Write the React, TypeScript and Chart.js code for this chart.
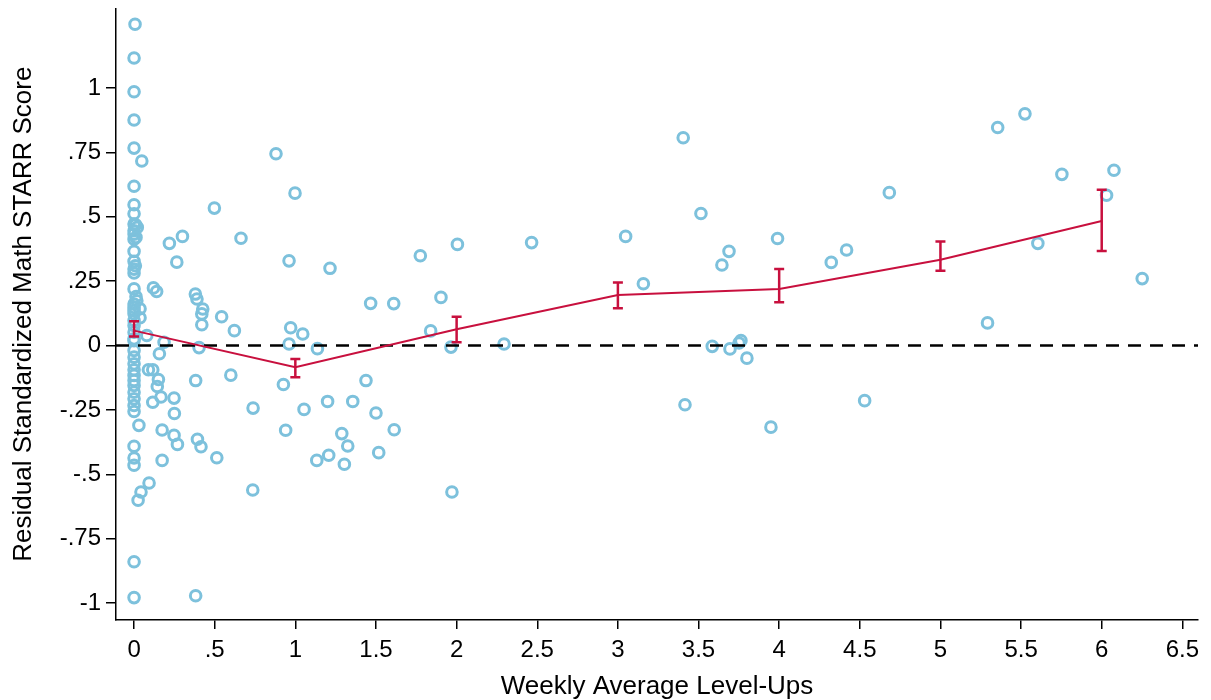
import { useEffect, useRef } from "react";
import { Chart, registerables } from "chart.js";

Chart.register(...registerables);

// ---------- data ----------
const scatterX = [
  0, 0, 0, 0, 0, 0, 0, 0, 0, 0, 0, 0, 0, 0, 0, 0, 0, 0, 0, 0, 0, 0, 0, 0, 0, 0, 0, 0, 0, 0, 0, 0, 0, 0, 0, 0, 0, 0, 0, 0, 0,
  0.006, 0.01, 0.02, 0.012, 0.017, 0.037, 0.037, 0.048, 0.079, 0.03, 0.093, 0.043, 0.025, 0.008, 0.012,
  0.186, 0.12, 0.14, 0.219, 0.3, 0.265, 0.38, 0.39, 0.426, 0.42, 0.42, 0.543, 0.622, 0.498, 0.663, 0.88, 0.998, 0.961, 1.215,
  0.971, 1.046, 0.961, 0.403, 1.137,
  0.157, 0.089, 0.116, 0.151, 0.144, 0.167, 0.116, 0.248, 0.25, 0.174, 0.248, 0.269, 0.174, 0.382, 0.6, 0.738, 0.393, 0.415,
  0.513, 0.736, 0.382, 0.926, 0.94, 1.054, 1.2, 1.133, 1.207, 1.288, 1.325, 1.304, 1.356, 1.438, 1.5, 1.517, 1.613, 1.971,
  1.775, 2.005, 2.465, 1.467, 1.61, 1.903, 1.839, 1.965, 2.294,
  3.405, 3.515, 3.048, 3.99, 3.689, 3.645, 3.158, 4.683, 4.323, 4.418, 3.585, 3.695, 3.751, 3.763, 3.8, 3.416, 3.949, 4.53,
  5.355, 5.524, 5.753, 6.076, 6.03, 5.604, 6.251, 5.292,
];
const scatterY = [
  1.117, 0.986, 0.876, 0.767, 0.619, 0.547, 0.512, 0.472, 0.446, 0.433, 0.413, 0.366, 0.327, 0.297, 0.282, 0.22, 0.161, 0.148,
  0.136, 0.124, 0.097, 0.078, 0.052, 0.026, 0.019, -0.019, -0.045, -0.071, -0.094, -0.116, -0.136, -0.155, -0.181, -0.207,
  -0.233, -0.256, -0.391, -0.437, -0.465, -0.84, -0.979,
  1.248, 0.469, 0.459, 0.42, 0.174, 0.143, 0.108, 0.717, 0.039, -0.31, -0.534, -0.569, -0.601, 0.31, 0.19,
  0.013, 0.224, 0.21, 0.397, 0.424, 0.324, 0.2, 0.181, 0.142, 0.123, 0.081, 0.112, 0.058, 0.534, 0.417, 0.745, 0.592, 0.329, 0.3,
  0.069, 0.045, 0.006, -0.008, -0.012,
  -0.032, -0.094, -0.094, -0.132, -0.159, -0.2, -0.22, -0.204, -0.264, -0.328, -0.349, -0.384, -0.446, -0.136, -0.115, -0.243,
  -0.364, -0.393, -0.436, -0.561, -0.972, -0.151, -0.329, -0.248, -0.217, -0.446, -0.426, -0.342, -0.39, -0.461, -0.217, -0.136,
  -0.262, -0.416, -0.327, -0.569,
  0.349, 0.393, 0.4, 0.164, 0.163, 0.187, 0.057, -0.006, 0.006,
  0.807, 0.513, 0.424, 0.416, 0.366, 0.313, 0.24, 0.594, 0.323, 0.371, -0.003, -0.013, 0.01, 0.019, -0.049, -0.23, -0.317, -0.214,
  0.847, 0.9, 0.665, 0.681, 0.584, 0.397, 0.26, 0.088,
];

const meanX = [0, 1, 2, 3, 4, 5, 6];
const meanY = [0.058, -0.084, 0.063, 0.196, 0.22, 0.333, 0.484];
const ciLow = [0.035, -0.123, 0.013, 0.145, 0.168, 0.291, 0.367];
const ciHigh = [0.094, -0.052, 0.112, 0.245, 0.297, 0.404, 0.605];

const xTicks = [0, 0.5, 1, 1.5, 2, 2.5, 3, 3.5, 4, 4.5, 5, 5.5, 6, 6.5];
const yTicks = [-1, -0.75, -0.5, -0.25, 0, 0.25, 0.5, 0.75, 1];

const X_MIN = -0.112;
const X_MAX = 6.597;
const Y_MIN = -1.066;
const Y_MAX = 1.31;

const xTitle = "Weekly Average Level-Ups";
const yTitle = "Residual Standardized Math STARR Score";

const BLUE = "#7DC1DC";
const RED = "#C8103E";
const FONT = "'Liberation Sans', Arial, Helvetica, sans-serif";

const fmt = (v: number) => {
  if (v === 0) return "0";
  return String(v).replace(/^(-?)0\./, "$1.");
};

const errorBars = {
  id: "errorBars",
  afterDatasetsDraw(chart: any) {
    const { ctx, scales } = chart;
    const xs = scales.x;
    const ys = scales.y;
    ctx.save();
    ctx.strokeStyle = RED;
    ctx.lineWidth = 2.5;
    meanX.forEach((mx, i) => {
      const px = xs.getPixelForValue(mx);
      const pl = ys.getPixelForValue(ciLow[i]);
      const ph = ys.getPixelForValue(ciHigh[i]);
      ctx.beginPath();
      ctx.moveTo(px, pl);
      ctx.lineTo(px, ph);
      ctx.moveTo(px - 5, pl);
      ctx.lineTo(px + 5, pl);
      ctx.moveTo(px - 5, ph);
      ctx.lineTo(px + 5, ph);
      ctx.stroke();
    });
    ctx.restore();
  },
};

const axisTitles = {
  id: "axisTitles",
  afterDraw(chart: any) {
    const { ctx, chartArea } = chart;
    ctx.save();
    ctx.fillStyle = "#000";
    ctx.textAlign = "center";
    ctx.textBaseline = "alphabetic";
    ctx.font = `26px ${FONT}`;
    ctx.fillText(xTitle, (chartArea.left + chartArea.right) / 2, 694);
    ctx.translate(31, (chartArea.top + chartArea.bottom) / 2);
    ctx.rotate(-Math.PI / 2);
    ctx.font = `26px ${FONT}`;
    ctx.fillText(yTitle, 0, 0);
    ctx.restore();
  },
};

export default function App() {
  const ref = useRef<HTMLCanvasElement | null>(null);

  useEffect(() => {
    if (!ref.current) return;
    const chart = new Chart(ref.current, {
      type: "scatter",
      data: {
        datasets: [
          {
            type: "line",
            data: meanX.map((x, i) => ({ x, y: meanY[i] })),
            borderColor: RED,
            borderWidth: 2,
            pointRadius: 0,
            fill: false,
            order: 1,
            clip: false as any,
          },
          {
            type: "line",
            data: [
              { x: X_MIN, y: 0 },
              { x: X_MAX, y: 0 },
            ],
            borderColor: "#000",
            borderWidth: 2.5,
            borderDash: [13, 9],
            pointRadius: 0,
            fill: false,
            order: 2,
          },
          {
            type: "scatter",
            data: scatterX.map((x, i) => ({ x, y: scatterY[i] })),
            pointStyle: "circle",
            pointRadius: 5.3,
            pointBorderWidth: 3,
            pointBorderColor: BLUE,
            pointBackgroundColor: "rgba(255,255,255,0)",
            order: 3,
            clip: false as any,
          },
        ],
      },
      options: {
        responsive: false,
        animation: false,
        events: [],
        layout: { padding: { top: 7, right: 13, left: 0, bottom: 0 } },
        plugins: {
          legend: { display: false },
          tooltip: { enabled: false },
          title: { display: false },
        },
        scales: {
          x: {
            type: "linear",
            min: X_MIN,
            max: X_MAX,
            afterBuildTicks: (s: any) => {
              s.ticks = xTicks.map((v) => ({ value: v }));
            },
            afterFit: (s: any) => {
              s.height = 80;
              s.paddingLeft = 0;
              s.paddingRight = 0;
            },
            ticks: {
              callback: (v: any) => fmt(Number(v)),
              autoSkip: false,
              maxRotation: 0,
              color: "#000",
              padding: 7,
              font: { family: FONT, size: 24 },
            },
            grid: {
              display: true,
              drawOnChartArea: false,
              drawTicks: true,
              tickLength: 9,
              color: "#000",
              lineWidth: 1.5,
            },
            border: { display: true, color: "#000", width: 1.5 },
          },
          y: {
            type: "linear",
            min: Y_MIN,
            max: Y_MAX,
            afterBuildTicks: (s: any) => {
              s.ticks = yTicks.map((v) => ({ value: v }));
            },
            afterFit: (s: any) => {
              s.width = 116;
              s.paddingTop = 0;
              s.paddingBottom = 0;
            },
            ticks: {
              callback: (v: any) => fmt(Number(v)),
              autoSkip: false,
              color: "#000",
              padding: 5,
              font: { family: FONT, size: 24 },
            },
            grid: {
              display: true,
              drawOnChartArea: false,
              drawTicks: true,
              tickLength: 10,
              color: "#000",
              lineWidth: 1.5,
            },
            border: { display: true, color: "#000", width: 1.5 },
          },
        },
      },
      plugins: [errorBars, axisTitles],
    });
    return () => chart.destroy();
  }, []);

  return (
    <div style={{ position: "absolute", left: 0, top: 0, width: 1211, height: 700, background: "#fff" }}>
      <canvas ref={ref} width={1211} height={700} style={{ display: "block", width: 1211, height: 700 }} />
    </div>
  );
}
